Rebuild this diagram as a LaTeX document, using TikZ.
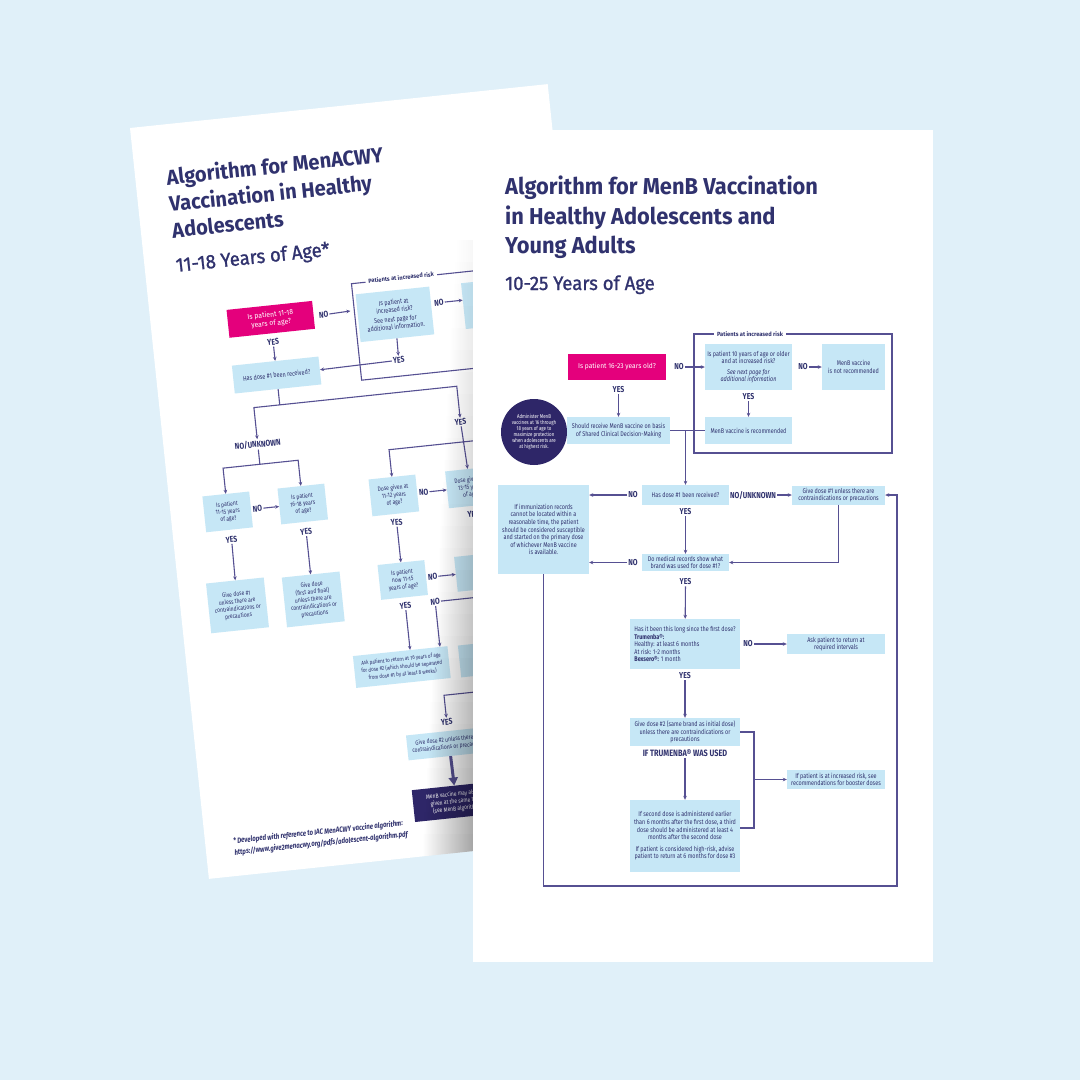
\documentclass[tikz,border=0pt]{standalone}
\usepackage{fontspec}
\setmainfont{Fira Sans}[FakeStretch=0.95]
\newfontfamily\condfont{Fira Sans}[FakeStretch=0.8]
\newfontfamily\medfont{Fira Sans}[FakeStretch=0.95,FakeBold=1.2]
\usetikzlibrary{arrows.meta,fadings}
\definecolor{bgBlue}{RGB}{224,240,249}
\definecolor{boxBlue}{RGB}{198,231,246}
\definecolor{navy}{RGB}{48,50,110}
\definecolor{lineC}{RGB}{86,80,146}
\definecolor{magC}{RGB}{228,0,124}
\definecolor{darkC}{RGB}{46,38,104}
\tikzfading[name=fadeR,left color=transparent!100,right color=transparent!0]
\newcommand{\fsz}[2]{\fontsize{#1}{#2}\selectfont}

\begin{document}
\begin{tikzpicture}[x=1pt,y=-1pt,>={Stealth[length=4pt,width=3.6pt]},
  sz/.style 2 args={minimum width=#1pt,minimum height=#2pt},
  box/.style={fill=boxBlue,text=navy,align=center,inner sep=1pt,font=\condfont\fsz{6.8}{7.6}},
  sbox/.style={box,font=\condfont\fsz{6.3}{7.3}},
  qbox/.style={fill=magC,text=white,align=center,inner sep=1pt,font=\fsz{7}{8.4}},
  dbox/.style={fill=darkC,text=white,align=center,inner sep=1pt,font=\condfont\fsz{6.2}{7.4}},
  lbl/.style={text=navy,font=\condfont\bfseries\fsz{8.6}{9.5},inner sep=1pt},
  ttl/.style={text=navy,font=\bfseries\fsz{23}{28},anchor=base west,inner sep=0pt},
  subttl/.style={text=navy,font=\medfont\fsz{19.5}{22},anchor=base west,inner sep=0pt},
  frlbl/.style={fill=white,text=navy,font=\bfseries\fsz{6}{7},inner sep=3pt},
  ln/.style={lineC,line width=1.1pt},
  fl/.style={ln,->}]
\useasboundingbox (0,0) rectangle (1080,1080);
\fill[bgBlue] (0,0) rectangle (1080,1080);

% back sheet: MenACWY
\begin{scope}[shift={(130,128)},rotate=6,transform shape]
\fill[white] (0,0) rectangle (420,755);
\node[ttl,font=\bfseries\fsz{21.2}{26}] (bA) at (31,60.6) {Algorithm for MenACWY};
\node[ttl,font=\bfseries\fsz{21.2}{26}] (bB) at (31,87.7) {Vaccination in Healthy};
\node[ttl,font=\bfseries\fsz{21.2}{26}] (bC) at (31,114) {Adolescents};
\node[subttl] (bD) at (31,148) {11-18 Years of Age*};
\node[qbox,sz={86}{28},font=\fsz{7.2}{8.8}] (bq1) at (120,205) {Is patient 11-18\\years of age?};
\node[lbl] (bno1) at (173,206) {NO};
\coordinate (bfr) at (200,205);
\draw[fl] (bno1) -- (bfr);
\draw[ln] (204,178) rectangle (405,275);
\node[frlbl] (blbl) at (254,177) {Patients at increased risk};
\node[box,sz={74}{48}] (briskq) at (244,213) {Is patient at\\increased risk?\\[2pt]See next page for\\additional information.};
\node[lbl] (bno2) at (289,206) {NO};
\node[box,sz={64}{46}] (bnotrec) at (345,212) {};
\draw[fl] (bno2) -- (bnotrec.west |- bno2);
\node[lbl] (byes1) at (243,259) {YES};
\draw[fl] (briskq) -- (byes1);
\node[lbl] (byes0) at (120,228) {YES};
\node[box,sz={87}{28}] (bd1) at (120,261) {Has dose \#1 been received?};
\draw[fl] (byes0) -- (bd1);
\draw[fl] (byes1) -- (bd1);
\coordinate (bj0) at (120,291);
\draw[ln] (bd1) -- (bj0);
\node[lbl] (bnu) at (94,328) {NO/UNKNOWN};
\node[lbl] (byes2) at (298,327) {YES};
\draw[fl] (bj0) -| (bnu);
\draw[fl] (bj0) -| (byes2);
\coordinate (bj1) at (94,348);
\node[sbox,sz={47}{36}] (bq11) at (57,392) {Is patient\\11-15 years\\of age?};
\node[sbox,sz={47}{36}] (bq16) at (132.5,392) {Is patient\\16-18 years\\of age?};
\draw[ln] (bnu) -- (bj1);
\draw[fl] (bj1) -| (bq11);
\draw[fl] (bj1) -| (bq16);
\node[lbl] (bno3) at (87,392) {NO};
\draw[fl] (bno3) -- (bq16);
\node[lbl] (byes3) at (58,420) {YES};
\node[lbl] (byes4) at (133,420) {YES};
\node[sbox,sz={58}{50}] (bg1) at (57,486) {Give dose \#1\\unless there are\\contraindications or\\precautions};
\node[sbox,sz={58}{50}] (bg2) at (133,488) {Give dose\\(first and final)\\unless there are\\contraindications or\\precautions};
\draw[fl] (byes3) -- (bg1);
\draw[fl] (byes4) -- (bg2);
\node[sbox,sz={47}{37}] (b11) at (224,393) {Dose given at\\11-12 years\\of age?};
\node[sbox,sz={47}{37}] (b13) at (301,393) {Dose given at\\13-15 years\\of age?};
\draw[fl] (byes2) -- (b13);
\coordinate (bj) at (400,347);
\draw[fl] (bj) -| (b11);
\node[lbl] (bno4) at (254,393) {NO};
\draw[fl] (bno4) -- (b13);
\node[lbl] (byes5) at (224,420) {YES};
\node[lbl] (byes6) at (301,420) {YES};
\node[sbox,sz={47}{35}] (bnow) at (224,478) {Is patient\\now 11-15\\years of age?};
\node[sbox,sz={47}{35}] (bnow16) at (301,478) {};
\draw[fl] (byes5) -- (bnow);
\draw[fl] (byes6) -- (bnow16);
\node[lbl] (bno5) at (254,478) {NO};
\draw[fl] (bno5) -- (bnow16);
\node[lbl] (bno6) at (254,503) {NO};
\draw[ln] (bnow16) |- (bno6);
\node[lbl] (byes7) at (224,504) {YES};
\node[box,sz={95}{32},font=\condfont\fsz{5.7}{7.6}] (bask) at (214,564.5) {Ask patient to return at 16 years of age\\for dose \#2 (which should be separated\\from dose \#1 by at least 8 weeks)};
\node[box,sz={88}{32}] (bhid) at (316,565) {};
\draw[fl] (byes7) -- (byes7 |- bask.north);
\draw[fl] (bno6) -- (bno6 |- bask.north);
\node[lbl] (byes8) at (253,624) {YES};
\coordinate (bj2) at (400,597);
\draw[fl] (bj2) -| (byes8);
\node[sbox,sz={84}{25}] (bgive2) at (253,645.5) {Give dose \#2 unless there are\\contraindications or precautions};
\node[dbox,sz={86}{32}] (bmenb) at (254,704) {MenB vaccine may also be\\given at the same time\\(see MenB algorithm)};
\draw[lineC,line width=3pt,-{Triangle[length=8pt,width=9pt]}] (bgive2) -- (bmenb);
\node[text=navy,font=\condfont\bfseries\itshape\fsz{7.6}{11.5},anchor=base west,align=left,inner sep=0pt] (bnote) at (28,734) {* Developed with reference to IAC MenACWY vaccine algorithm:\\https://www.give2menacwy.org/pdfs/adolescent-algorithm.pdf};
\end{scope}
% shadow where the front sheet lies on the back one
\begin{scope}
\clip[shift={(130,128)},rotate=6] (0,0) rectangle (420,755);
\foreach \i in {0,...,29}
  \fill[black,opacity=0.03+0.012*\i,path fading=fadeR] (455-1.2*\i,240+22*\i) rectangle (473,262+22*\i);
\end{scope}

% front sheet: MenB
\fill[white] (473,130) rectangle (933,962);
\node[ttl] (tA) at (505,194) {Algorithm for MenB Vaccination};
\node[ttl] (tB) at (505,224) {in Healthy Adolescents and};
\node[ttl] (tC) at (505,253) {Young Adults};
\node[subttl] (tD) at (505,290) {10-25 Years of Age};

\draw[ln] (694,334) rectangle (892,453);
\node[frlbl] (risklbl) at (750,334) {Patients at increased risk};
\node[qbox,sz={98}{26}] (q1) at (617,367) {Is patient 16-23 years old?};
\node[lbl] (noA) at (679,367) {NO};
\node[box,sz={87}{46}] (riskq) at (748.5,367) {Is patient 10 years of age or older\\and at increased risk?\\[3pt]\textit{See next page for}\\\textit{additional information}};
\node[lbl] (noB) at (803,367) {NO};
\node[box,sz={63}{46}] (notrec) at (853.5,367) {MenB vaccine\\is not recommended};
\node[lbl] (yesB) at (748.5,397) {YES};
\node[box,sz={87}{27}] (rec) at (748.5,430.5) {MenB vaccine is recommended};
\node[lbl] (yesA) at (618.5,390) {YES};
\node[box,sz={103}{27}] (scdm) at (618.5,430.5) {Should receive MenB vaccine on basis\\of Shared Clinical Decision-Making};
\node[circle,fill=darkC,text=white,align=center,minimum size=66pt,inner sep=0pt,font=\condfont\fsz{5.5}{6}] (circ) at (534,432) {Administer MenB\\vaccines at 16 through\\18 years of age to\\maximize protection\\when adolescents are\\at highest risk.};
\draw[fl] (noA) -- (riskq);
\draw[fl] (noB) -- (notrec);
\draw[fl] (yesB) -- (rec);
\draw[fl] (yesA) -- (scdm);
\draw[ln] (scdm) -- (rec);

\node[box,sz={87}{20}] (d1) at (685.5,495) {Has dose \#1 been received?};
\draw[fl] (d1 |- scdm) -- (d1);
\node[box,sz={91}{89}] (records) at (543.5,529.5) {If immunization records\\cannot be located within a\\reasonable time, the patient\\should be considered susceptible\\and started on the primary dose\\of whichever MenB vaccine\\is available.};
\node[lbl] (noC) at (633,495) {NO};
\draw[fl] (noC) -- (noC -| records.east);
\node[lbl] (nuA) at (753,495) {NO/UNKNOWN};
\node[box,sz={93}{19}] (give1) at (838.5,495) {Give dose \#1 unless there are\\contraindications or precautions};
\draw[fl] (nuA) -- (give1);
\node[lbl] (yesC) at (685.5,512) {YES};
\node[box,sz={87}{17}] (brand) at (685.5,562.5) {Do medical records show what\\brand was used for dose \#1?};
\draw[fl] (yesC) -- (brand);
\node[lbl] (noD) at (633,562.5) {NO};
\draw[fl] (noD) -- (noD -| records.east);
\draw[fl] (give1) |- (brand);
\coordinate (loopc) at (897,886);
\draw[fl] (records) |- (loopc) |- (give1);

\node[lbl] (yesD) at (685.5,582) {YES};
\node[box,sz={110}{50},align=left] (long) at (685,644) {Has it been this long since the first dose?\\\textbf{Trumenba®:}\\Healthy: at least 6 months\\At risk: 1-2 months\\\textbf{Bexsero®:} 1 month};
\draw[fl] (yesD) -- (long);
\node[lbl] (noE) at (748,644) {NO};
\node[box,sz={98}{20}] (ask) at (836,644) {Ask patient to return at\\required intervals};
\draw[fl] (noE) -- (ask);
\node[lbl] (yesE) at (685,676) {YES};
\node[box,sz={110}{28}] (give2) at (685,732) {Give dose \#2 (same brand as initial dose)\\unless there are contraindications or\\precautions};
\draw[fl] (yesE) -- (give2);
\node[lbl,font=\condfont\bfseries\fsz{9.2}{10}] (trum) at (685,753) {IF TRUMENBA® WAS USED};
\node[box,sz={110}{72}] (third) at (685,836) {If second dose is administered earlier\\than 6 months after the first dose, a third\\dose should be administered at least 4\\months after the second dose\\[4pt]If patient is considered high-risk, advise\\patient to return at 6 months for dose \#3};
\draw[fl] (trum) -- (third);
\node[box,sz={98}{19}] (booster) at (836,779.5) {If patient is at increased risk, see\\recommendations for booster doses};
\coordinate (brk) at (754,779.5);
\draw[ln] (give2.east) -| (brk) |- ([yshift=8pt]third.east);
\draw[fl] (brk) -- (booster);
\end{tikzpicture}
\end{document}
